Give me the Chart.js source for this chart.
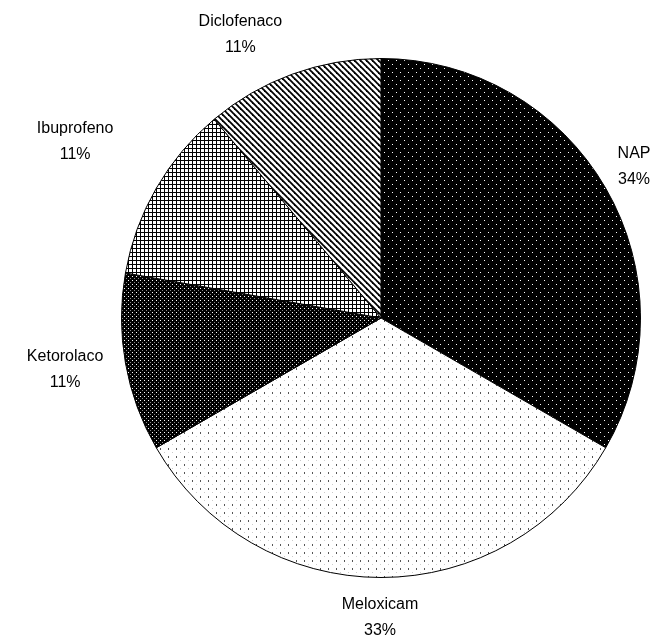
<!DOCTYPE html>
<html>
<head>
<meta charset="utf-8">
<script src="https://cdn.jsdelivr.net/npm/chart.js@4.4.0/dist/chart.umd.min.js"></script>
<style>
  html, body { margin: 0; padding: 0; background: #fff; }
  #wrap { width: 659px; height: 637px; }
</style>
</head>
<body>
<div id="wrap"><canvas id="grafico" width="659" height="637"></canvas></div>
<script>
// Dados do gráfico
const categorias = ['NAP', 'Meloxicam', 'Ketorolaco', 'Ibuprofeno', 'Diclofenaco'];
const valores = [6, 6, 2, 2, 2];
const rotulosPct = ['34%', '33%', '11%', '11%', '11%'];

// Cria um padrão de preenchimento num pequeno canvas
function padrao(tam, desenhar) {
    const c = document.createElement('canvas');
    c.width = tam; c.height = tam;
    const g = c.getContext('2d');
    desenhar(g, tam);
    return g.createPattern(c, 'repeat');
}

const ctx = document.getElementById('grafico').getContext('2d');

const padroes = [
    // NAP: preto com pontos brancos espaçados
    padrao(8, (g, s) => {
        g.fillStyle = '#000'; g.fillRect(0, 0, s, s);
        g.fillStyle = '#fff'; g.fillRect(0, 0, 1, 1); g.fillRect(4, 4, 1, 1);
    }),
    // Meloxicam: branco com pontos escuros
    padrao(8, (g, s) => {
        g.fillStyle = '#fff'; g.fillRect(0, 0, s, s);
        g.fillStyle = '#555'; g.fillRect(0, 0, 1, 2);
        g.fillStyle = '#ccc'; g.fillRect(4, 4, 1, 1);
    }),
    // Ketorolaco: preto com pontos densos
    padrao(4, (g, s) => {
        g.fillStyle = '#000'; g.fillRect(0, 0, s, s);
        g.fillStyle = '#fff'; g.fillRect(0, 0, 1, 1);
        g.fillStyle = '#888'; g.fillRect(2, 2, 1, 1);
    }),
    // Ibuprofeno: grade
    padrao(4, (g, s) => {
        g.fillStyle = '#fff'; g.fillRect(0, 0, s, s);
        g.fillStyle = '#000'; g.fillRect(0, 0, s, 1); g.fillRect(0, 0, 1, s);
    }),
    // Diclofenaco: listras diagonais
    padrao(6, (g, s) => {
        g.fillStyle = '#fff'; g.fillRect(0, 0, s, s);
        g.strokeStyle = '#000'; g.lineWidth = 1.8;
        for (let k = -1; k <= 1; k++) {
            g.beginPath();
            g.moveTo(k * s - 1, -1);
            g.lineTo(k * s + s + 1, s + 1);
            g.stroke();
        }
    })
];

// Plugin que desenha os rótulos fora da pizza
const rotulosExternos = {
    id: 'rotulosExternos',
    afterDraw(chart, args, opts) {
        const c = chart.ctx;
        const meta = chart.getDatasetMeta(0);
        const ajustes = opts.ajustes || [];
        c.save();
        c.font = '16px "Liberation Sans", Arial, sans-serif';
        c.fillStyle = '#000';
        c.textAlign = 'center';
        c.textBaseline = 'middle';
        meta.data.forEach((arc, i) => {
            const meio = (arc.startAngle + arc.endAngle) / 2;
            const ux = Math.cos(meio), uy = Math.sin(meio);
            const linhas = [categorias[i], rotulosPct[i]];
            const w = Math.max(...linhas.map(t => c.measureText(t).width));
            const h = 52;
            const dist = arc.outerRadius + 22;
            const [ax, ay] = ajustes[i] || [0, 0];
            const cx = arc.x + ux * dist + ux * w / 2 + ax;
            const cy = arc.y + uy * dist + uy * h / 2 + ay;
            c.fillText(linhas[0], cx, cy - 13);
            c.fillText(linhas[1], cx, cy + 13);
        });
        c.restore();
    }
};

new Chart(ctx, {
    type: 'pie',
    data: {
        labels: categorias,
        datasets: [{
            data: valores,
            backgroundColor: padroes,
            borderColor: '#000',
            borderWidth: 1
        }]
    },
    options: {
        responsive: false,
        animation: false,
        layout: { padding: { left: 121, right: 18, top: 58, bottom: 59 } },
        plugins: {
            legend: { display: false },
            tooltip: { enabled: false },
            // pequenos deslocamentos para imitar a posição dos rótulos
            rotulosExternos: { ajustes: [[-5, 2], [-1, -8], [-1, -2], [-29, -23], [-30, 6]] }
        }
    },
    plugins: [rotulosExternos]
});
</script>
</body>
</html>
